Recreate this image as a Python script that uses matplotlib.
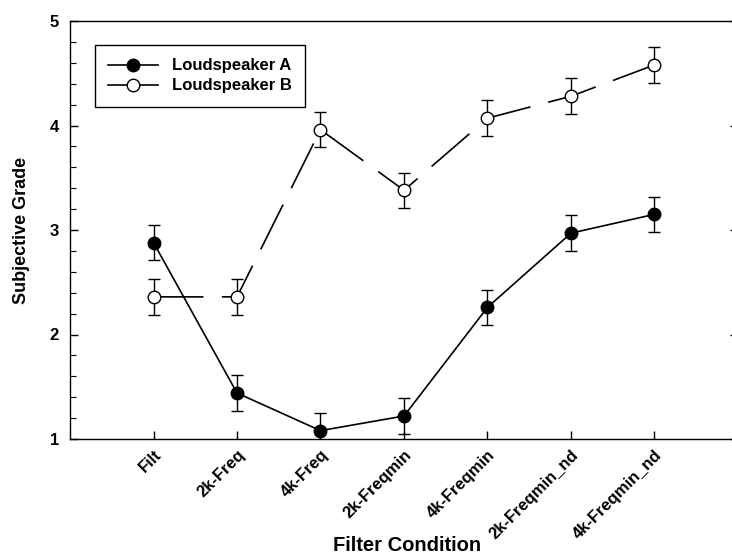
import matplotlib
matplotlib.use("Agg")
import matplotlib.pyplot as plt
from matplotlib.lines import Line2D
from matplotlib.ticker import MultipleLocator

plt.rcParams['font.family'] = ['Liberation Sans', 'DejaVu Sans']
plt.rcParams['font.weight'] = 'bold'

conditions = ['Filt', '2k-Freq', '4k-Freq', '2k-Freqmin', '4k-Freqmin',
              '2k-Freqmin_nd', '4k-Freqmin_nd']
speaker_a = [2.88, 1.44, 1.08, 1.22, 2.26, 2.97, 3.15]
speaker_b = [2.36, 2.36, 3.96, 3.38, 4.07, 4.28, 4.58]
err_a = [0.17, 0.17, 0.17, 0.17, 0.17, 0.17, 0.17]
err_b = [0.17, 0.17, 0.17, 0.17, 0.17, 0.17, 0.17]

x = list(range(1, len(conditions) + 1))

fig = plt.figure(figsize=(7.32, 5.6), dpi=100)
ax = fig.add_axes([70 / 732, 121 / 560, 668 / 732, 418 / 560])

ax.errorbar(x, speaker_a, yerr=err_a, color='black', lw=1.2,
            marker='o', ms=9, mfc='black', mec='black',
            ecolor='black', elinewidth=1.0, capsize=4, capthick=1.0, zorder=3)
ax.errorbar(x, speaker_b, yerr=err_b, color='black', lw=1.2,
            linestyle=(0, (30, 11)),
            marker='o', ms=9, mfc='white', mec='black', mew=1.0,
            ecolor='black', elinewidth=1.0, capsize=4, capthick=1.0, zorder=3)

ax.set_xlim(0, 8)
ax.set_ylim(1, 5)
ax.set_xticks(x)
ax.set_xticklabels(conditions, rotation=45, ha='right', rotation_mode='anchor',
                   fontsize=12, fontweight='bold')
ax.yaxis.set_major_locator(MultipleLocator(1))
ax.yaxis.set_minor_locator(MultipleLocator(0.2))
ax.tick_params(axis='both', which='major', direction='in', length=6, width=1,
               labelsize=12)
ax.tick_params(axis='y', which='minor', direction='in', length=4, width=0.8)
ax.tick_params(axis='y', which='both', right=True)
ax.tick_params(axis='x', pad=6)
ax.tick_params(axis='y', pad=8)

for side in ax.spines.values():
    side.set_linewidth(1.0)

ax.set_ylabel('Subjective Grade', fontsize=13, fontweight='bold', labelpad=14)
ax.set_xlabel('Filter Condition', fontsize=14.5, fontweight='bold')
ax.xaxis.set_label_coords(337 / 668, -97 / 418)

# legend without the error bar glyphs
handles = [
    Line2D([], [], color='black', lw=1.2, marker='o', ms=9, mfc='black', mec='black'),
    Line2D([], [], color='black', lw=1.2, marker='o', ms=9, mfc='white', mec='black'),
]
leg = ax.legend(handles, ['Loudspeaker A', 'Loudspeaker B'],
                loc='upper left', bbox_to_anchor=(25 / 668, 1 - 24 / 418),
                fancybox=False, edgecolor='black', framealpha=1,
                prop={'size': 12, 'weight': 'bold'}, handlelength=3,
                borderpad=0.8, labelspacing=0.3, borderaxespad=0)
leg.get_frame().set_linewidth(1.0)

fig.savefig('out.png', dpi=100)
